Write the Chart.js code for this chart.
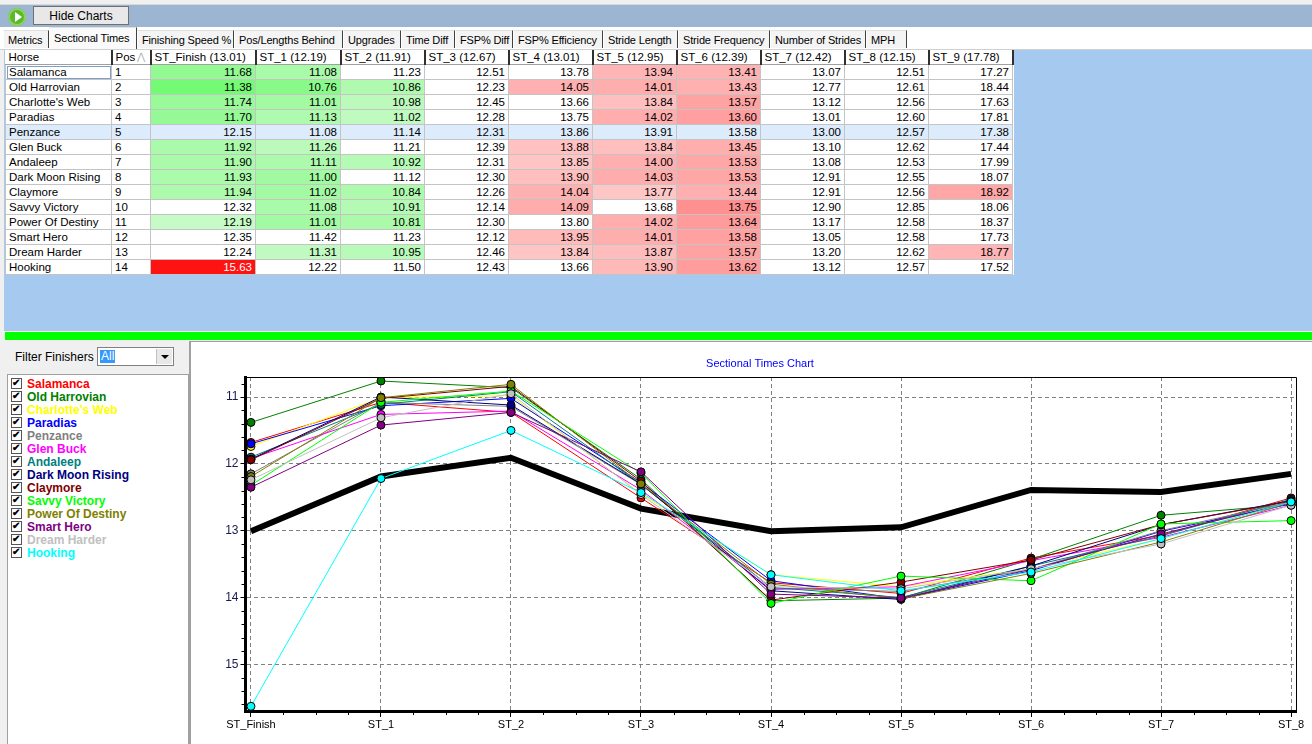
<!DOCTYPE html>
<html>
<head>
<meta charset="utf-8">
<script src="https://cdn.jsdelivr.net/npm/chart.js@4.4.1/dist/chart.umd.min.js"></script>
<style>
  body { margin: 0; width: 1312px; height: 744px; overflow: hidden; background: #f0f0f0;
         font-family: "Liberation Sans", Arial, sans-serif; font-size: 12px; position: relative; }
  .abs { position: absolute; }
  #topbar { left: 0; top: 4px; width: 1312px; height: 23px; background: #9bb5d2; border-top: 1px solid #d8d8d8; }
  #play { left: 8px; top: 8px; width: 18px; height: 18px; border-radius: 50%; background: #5cb82e;
          box-shadow: inset 0 0 0 2px #8fd45c; }
  #play:after { content: ""; position: absolute; left: 7px; top: 4px; border-left: 7px solid #fff;
                border-top: 5px solid transparent; border-bottom: 5px solid transparent; }
  #hide { left: 33px; top: 6px; width: 96px; height: 19px; background: #e8e8e8; border: 1px solid #707070;
          text-align: center; line-height: 19px; font-size: 12px; box-sizing: border-box; }
  #tabs { left: 0; top: 27px; width: 1312px; height: 22px; background: #fff; border-bottom: 1px solid #d0d0d0; }
  .tab { position: absolute; top: 3px; height: 18px; line-height: 18px; box-sizing: border-box; padding-left: 4px;
         border-left: 1px solid #fff; border-right: 1px solid #404040; border-top: 1px solid #e0e0e0;
         background: #f4f4f4; font-size: 11px; letter-spacing: -0.15px; white-space: nowrap; overflow: hidden; }
  .tab.sel { top: 0; height: 22px; line-height: 20px; background: #fafafa; border-right: 1px solid #404040; }
  #grid { left: 4px; top: 50px; width: 1308px; height: 281px; background: #a6c9ef; }
  table { border-collapse: collapse; table-layout: fixed; font-size: 11.5px; background: #fff; position: absolute; left: 1px; top: 0; }
  td, th { height: 14px; padding: 0 3px; border: 1px solid #c4c4c4; white-space: nowrap; overflow: hidden; line-height: 14px; }
  th { font-weight: normal; text-align: left; border: none; border-right: 2px solid #303030; border-bottom: 1px solid #a0a0a0; height: 14px; }
  td.num { text-align: right; }
  tr.sel td { background: #dcecfc !important; color: #000 !important; }
  td.focus { outline: 1px solid #7d9fc8; outline-offset: -2px; }
  .sort { color: #b0b0b0; font-size: 10px; float: right; margin-right: 2px; }
  #greenbar { left: 5px; top: 332px; width: 1307px; height: 8px; background: #00ff00; }
  #leftpanel { left: 0; top: 341px; width: 189px; height: 403px; background: #f0f0f0; border-right: 2px solid #a0a0a0; }
  #filterlbl { left: 15px; top: 350px; font-size: 12px; }
  #combo { left: 97px; top: 347px; width: 77px; height: 19px; background: #fff; border: 1px solid #808080; box-sizing: border-box; }
  #combo span { position: absolute; left: 2px; top: 2px; background: #3399ff; color: #fff; padding: 0 1px; line-height: 13px; font-size: 12px; }
  #combo i { position: absolute; right: 1px; top: 1px; width: 15px; height: 15px; background: #e8e8e8; border-left: 1px solid #c0c0c0; }
  #combo i:after { content: ""; position: absolute; left: 4px; top: 6px; border-top: 4px solid #000;
                   border-left: 4px solid transparent; border-right: 4px solid transparent; }
  #list { left: 7px; top: 374px; width: 182px; height: 370px; background: #fff; border: 1px solid #a0a0a0; border-bottom: none; box-sizing: border-box; }
  .item { position: absolute; left: 3px; height: 13px; font-weight: bold; font-size: 12px; line-height: 13px; white-space: nowrap; }
  .item b { display: inline-block; width: 9px; height: 9px; border: 1px solid #555; background: #fff; margin-right: 5px;
            vertical-align: -1px; position: relative; }
  .item b:after { content: "\2714"; position: absolute; left: 0; top: -2px; font-size: 10px; color: #000; line-height: 12px; }
  #chartpanel { left: 191px; top: 341px; width: 1121px; height: 403px; background: #fff; border-top: 1px solid #a0a0a0; }
  #chartbox { left: 192px; top: 342px; width: 1120px; height: 402px; }
</style>
</head>
<body>
<div id="topbar" class="abs"></div>
<div id="play" class="abs"></div>
<div id="hide" class="abs">Hide Charts</div>
<div id="tabs" class="abs"></div>
<div id="grid" class="abs"><table id="tbl"></table></div>
<div id="greenbar" class="abs"></div>
<div id="leftpanel" class="abs"></div>
<div id="filterlbl" class="abs">Filter Finishers</div>
<div id="combo" class="abs"><span>All</span><i></i></div>
<div id="list" class="abs"></div>
<div id="chartpanel" class="abs"></div>
<div id="chartbox" class="abs"><canvas id="chart" width="1120" height="402"></canvas></div>
<script>
const tabNames = ["Metrics", "Sectional Times", "Finishing Speed %", "Pos/Lengths Behind", "Upgrades", "Time Diff",
  "FSP% Diff", "FSP% Efficiency", "Stride Length", "Stride Frequency", "Number of Strides", "MPH"];
const tabEdges = [3, 49, 137, 234, 343, 401, 455, 513, 603, 678, 770, 866, 907];

const horses = ["Salamanca", "Old Harrovian", "Charlotte's Web", "Paradias", "Penzance", "Glen Buck", "Andaleep",
  "Dark Moon Rising", "Claymore", "Savvy Victory", "Power Of Destiny", "Smart Hero", "Dream Harder", "Hooking"];
const positions = [1, 2, 3, 4, 5, 6, 7, 8, 9, 10, 11, 12, 13, 14];
const horseColors = ["#ff0000", "#008000", "#ffff00", "#0000ff", "#808080", "#ff00ff", "#008080",
  "#000080", "#800000", "#00ff00", "#808000", "#800080", "#c0c0c0", "#00ffff"];

const sections = ["ST_Finish", "ST_1", "ST_2", "ST_3", "ST_4", "ST_5", "ST_6", "ST_7", "ST_8", "ST_9"];
const sectionAvg = [13.01, 12.19, 11.91, 12.67, 13.01, 12.95, 12.39, 12.42, 12.15, 17.78];

const stFinish = [11.68, 11.38, 11.74, 11.70, 12.15, 11.92, 11.90, 11.93, 11.94, 12.32, 12.19, 12.35, 12.24, 15.63];
const st1 = [11.08, 10.76, 11.01, 11.13, 11.08, 11.26, 11.11, 11.00, 11.02, 11.08, 11.01, 11.42, 11.31, 12.22];
const st2 = [11.23, 10.86, 10.98, 11.02, 11.14, 11.21, 10.92, 11.12, 10.84, 10.91, 10.81, 11.23, 10.95, 11.50];
const st3 = [12.51, 12.23, 12.45, 12.28, 12.31, 12.39, 12.31, 12.30, 12.26, 12.14, 12.30, 12.12, 12.46, 12.43];
const st4 = [13.78, 14.05, 13.66, 13.75, 13.86, 13.88, 13.85, 13.90, 14.04, 14.09, 13.80, 13.95, 13.84, 13.66];
const st5 = [13.94, 14.01, 13.84, 14.02, 13.91, 13.84, 14.00, 14.03, 13.77, 13.68, 14.02, 14.01, 13.87, 13.90];
const st6 = [13.41, 13.43, 13.57, 13.60, 13.58, 13.45, 13.53, 13.53, 13.44, 13.75, 13.64, 13.58, 13.57, 13.62];
const st7 = [13.07, 12.77, 13.12, 13.01, 13.00, 13.10, 13.08, 12.91, 12.91, 12.90, 13.17, 13.05, 13.20, 13.12];
const st8 = [12.51, 12.61, 12.56, 12.60, 12.57, 12.62, 12.53, 12.55, 12.56, 12.85, 12.58, 12.58, 12.62, 12.57];
const st9 = [17.27, 18.44, 17.63, 17.81, 17.38, 17.44, 17.99, 18.07, 18.92, 18.06, 18.37, 17.73, 18.77, 17.52];

const columns = [stFinish, st1, st2, st3, st4, st5, st6, st7, st8, st9];
const chartSections = 9; // ST_9 is not plotted
const yTicks = [11, 12, 13, 14, 15];

// ---- tabs ----
const tabs = document.getElementById("tabs");
tabNames.forEach((name, i) => {
  const d = document.createElement("div");
  d.className = "tab" + (i === 1 ? " sel" : "");
  d.style.left = tabEdges[i] + "px";
  d.style.width = (tabEdges[i + 1] - tabEdges[i]) + "px";
  d.textContent = name;
  tabs.appendChild(d);
});

// ---- table ----
const colWidths = [106, 39, 105, 85, 84, 84, 84, 84, 84, 84, 84, 84];
const shade = (v, avg) => {
  const dev = v - avg;
  if (Math.abs(dev) < 0.8) return null;
  const c = Math.max(0, Math.round(200 - 100 * (Math.abs(dev) - 0.8)));
  return { bg: dev < 0 ? `rgb(${c},250,${c})` : `rgb(255,${c},${c})`, fg: c < 70 ? "#fff" : "#000" };
};
const tbl = document.getElementById("tbl");
let html = "<colgroup>" + colWidths.map(w => `<col style="width:${w}px">`).join("") + "</colgroup>";
html += "<tr><th>Horse</th><th>Pos<span class='sort'>&#8896;</span></th>" +
  sections.map((s, i) => `<th>${s} (${sectionAvg[i].toFixed(2)})</th>`).join("") + "</tr>";
horses.forEach((h, r) => {
  html += `<tr class="${r === 4 ? "sel" : ""}"><td class="${r === 0 ? "focus" : ""}">${h}</td><td>${positions[r]}</td>`;
  columns.forEach((col, c) => {
    const s = shade(col[r], sectionAvg[c]);
    const st = s ? ` style="background:${s.bg};color:${s.fg}"` : "";
    html += `<td class="num"${st}>${col[r].toFixed(2)}</td>`;
  });
  html += "</tr>";
});
tbl.innerHTML = html;

// ---- finisher list ----
const list = document.getElementById("list");
horses.forEach((h, i) => {
  const d = document.createElement("div");
  d.className = "item";
  d.style.top = (3 + i * 13) + "px";
  d.style.color = horseColors[i];
  d.innerHTML = "<b></b>" + h.replace(/'/g, "&#39;");
  list.appendChild(d);
});

// ---- chart ----
const labels = sections.slice(0, chartSections);
const horseSets = horses.map((h, i) => ({
  label: h,
  data: columns.slice(0, chartSections).map((col, c) => ({ x: c, y: col[i] })),
  borderColor: horseColors[i],
  backgroundColor: horseColors[i],
  borderWidth: 1,
  pointRadius: 4,
  pointBorderColor: "#000",
  pointBorderWidth: 1,
  order: 20 - i,
}));
const avgSet = {
  label: "Average",
  data: sectionAvg.slice(0, chartSections).map((v, c) => ({ x: c, y: v })),
  borderColor: "#000",
  borderWidth: 6,
  pointRadius: 0,
  order: 100,
};

const frame = {
  id: "frame",
  afterDraw(chart) {
    const { ctx, chartArea: a, scales } = chart;
    ctx.save();
    ctx.strokeStyle = "#000";
    ctx.lineWidth = 1;
    ctx.beginPath();
    ctx.moveTo(a.left, a.top + 0.5);
    ctx.lineTo(a.right + 0.5, a.top + 0.5);
    ctx.lineTo(a.right + 0.5, a.bottom);
    // minor ticks
    for (let c = 0; c < chartSections - 1; c++) {
      for (let q = 1; q < 4; q++) {
        const x = Math.round(scales.x.getPixelForValue(c + q / 4)) + 0.5;
        ctx.moveTo(x, a.bottom + 1);
        ctx.lineTo(x, a.bottom + 4);
      }
    }
    for (let v = 10.8; v < 15.7; v += 0.2) {
      if (Math.abs(v - Math.round(v)) < 0.01) continue;
      const y = Math.round(scales.y.getPixelForValue(v)) + 0.5;
      ctx.moveTo(a.left - 1, y);
      ctx.lineTo(a.left - 4, y);
    }
    ctx.stroke();
    ctx.fillStyle = "#0000ff";
    ctx.font = "11px 'Liberation Sans', Arial, sans-serif";
    ctx.textAlign = "center";
    ctx.textBaseline = "middle";
    ctx.fillText("Sectional Times Chart", 568, 22);
    ctx.restore();
  },
};

new Chart(document.getElementById("chart"), {
  type: "line",
  data: { datasets: [...horseSets, avgSet] },
  options: {
    responsive: false,
    animation: false,
    devicePixelRatio: 1,
    layout: { padding: { top: 35, right: 16, left: 0, bottom: 0 } },
    elements: { line: { tension: 0 } },
    plugins: { legend: { display: false }, tooltip: { enabled: false }, title: { display: false } },
    scales: {
      x: {
        type: "linear",
        min: -0.042,
        max: 8.038,
        afterBuildTicks: (s) => { s.ticks = labels.map((_, i) => ({ value: i })); },
        afterFit: (s) => { s.height = 33; },
        ticks: {
          callback: (v) => labels[v],
          font: { family: "'Liberation Sans', Arial, sans-serif", size: 11 },
          color: "#000",
          padding: 1,
          maxRotation: 0,
          autoSkip: false,
        },
        grid: { color: "#808080", tickLength: 6, tickColor: "#000", tickBorderDash: [] },
        border: { display: true, color: "#000", width: 3, dash: [4, 3] },
      },
      y: {
        reverse: true,
        min: 10.7,
        max: 15.7,
        afterBuildTicks: (s) => { s.ticks = yTicks.map(v => ({ value: v })); },
        afterFit: (s) => { s.width = 53.5; },
        ticks: {
          font: { family: "'Liberation Sans', Arial, sans-serif", size: 12 },
          color: "#1a1a50",
          padding: 2,
        },
        grid: { color: "#808080", tickLength: 5, tickColor: "#000", tickBorderDash: [] },
        border: { display: true, color: "#000", width: 3, dash: [4, 3] },
      },
    },
  },
  plugins: [frame],
});
</script>
</body>
</html>
